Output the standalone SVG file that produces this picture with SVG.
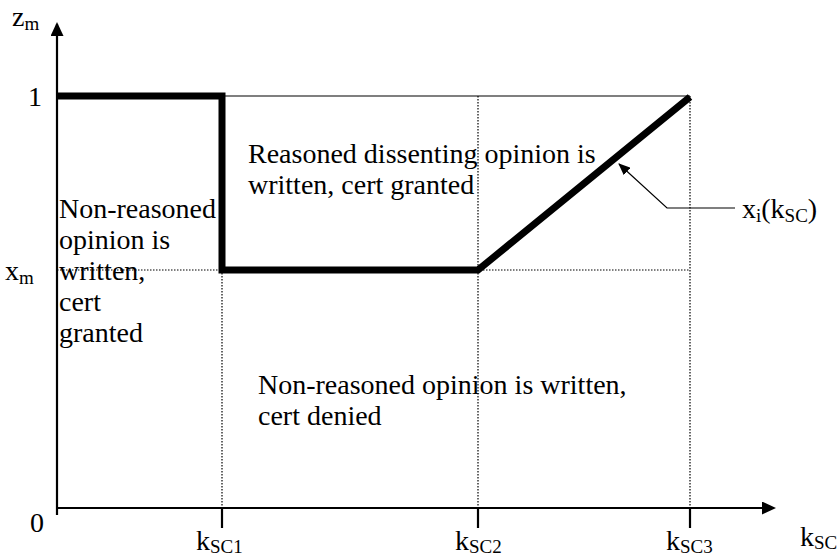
<svg xmlns="http://www.w3.org/2000/svg" width="840" height="560" viewBox="0 0 840 560">
<defs>
<marker id="ah" markerWidth="14" markerHeight="13" refX="12" refY="6.5" orient="auto" markerUnits="userSpaceOnUse"><path d="M0,0 L14,6.5 L0,13 z" fill="#000"/></marker>
<marker id="sah" markerWidth="12" markerHeight="10" refX="11" refY="5" orient="auto" markerUnits="userSpaceOnUse"><path d="M0,0 L12,5 L0,10 z" fill="#000"/></marker>
</defs>
<style>
text{font-family:"Liberation Serif","Times New Roman",serif;font-size:28px;fill:#000}
.sub{font-size:19px}
.ax{stroke:#000;stroke-width:2.2;fill:none}
.thin{stroke:#000;stroke-width:1.2;fill:none}
.dot{stroke:#000;stroke-width:1.2;stroke-dasharray:1.5,1.5;fill:none}
.thick{stroke:#000;stroke-width:7;fill:none;stroke-linejoin:miter}
</style>
<rect width="840" height="560" fill="#fff"/>
<g id="grid">
<line class="thin" x1="57" y1="96" x2="690" y2="96"/>
<line class="dot" x1="57" y1="270" x2="690" y2="270"/>
<line class="dot" x1="222" y1="270" x2="222" y2="508"/>
<line class="dot" x1="478" y1="96" x2="478" y2="508"/>
<line class="dot" x1="690" y1="96" x2="690" y2="508"/>
</g>
<g id="axes">
<line class="ax" x1="57" y1="515" x2="57" y2="24" marker-end="url(#ah)"/>
<line class="ax" x1="57" y1="508" x2="774" y2="508" marker-end="url(#ah)"/>
<line class="ax" x1="222" y1="508" x2="222" y2="528"/>
<line class="ax" x1="478" y1="508" x2="478" y2="528"/>
<line class="ax" x1="690" y1="508" x2="690" y2="528"/>
</g>
<g id="curve">
<polyline class="thick" points="57,96 222,96 222,270 478,270 690,97"/>
</g>
<g id="connectors">
<polyline class="thin" points="735,208 667,208 619,164" marker-end="url(#sah)"/>
</g>
<g id="axis-labels">
<text x="12" y="26">z<tspan class="sub" dy="4">m</tspan></text>
<text x="28" y="106">1</text>
<text x="5" y="280">x<tspan class="sub" dy="4">m</tspan></text>
<text x="30" y="532">0</text>
<text x="196" y="550">k<tspan class="sub" dy="3">SC1</tspan></text>
<text x="455" y="550">k<tspan class="sub" dy="3">SC2</tspan></text>
<text x="666" y="550">k<tspan class="sub" dy="3">SC3</tspan></text>
<text x="800" y="546">k<tspan class="sub" dy="3">SC</tspan></text>
</g>
<g id="label-xi">
<text x="742" y="218">x<tspan class="sub" dy="4">i</tspan><tspan dy="-4">(k</tspan><tspan class="sub" dy="4">SC</tspan><tspan dy="-4">)</tspan></text>
</g>
<g id="region-left">
<text x="59" y="218">Non-reasoned</text>
<text x="59" y="249">opinion is</text>
<text x="59" y="280">written,</text>
<text x="59" y="311">cert</text>
<text x="59" y="342">granted</text>
</g>
<g id="region-top">
<text x="248" y="163">Reasoned dissenting opinion is</text>
<text x="248" y="194">written, cert granted</text>
</g>
<g id="region-bottom">
<text x="258" y="394">Non-reasoned opinion is written,</text>
<text x="258" y="425">cert denied</text>
</g>
</svg>
